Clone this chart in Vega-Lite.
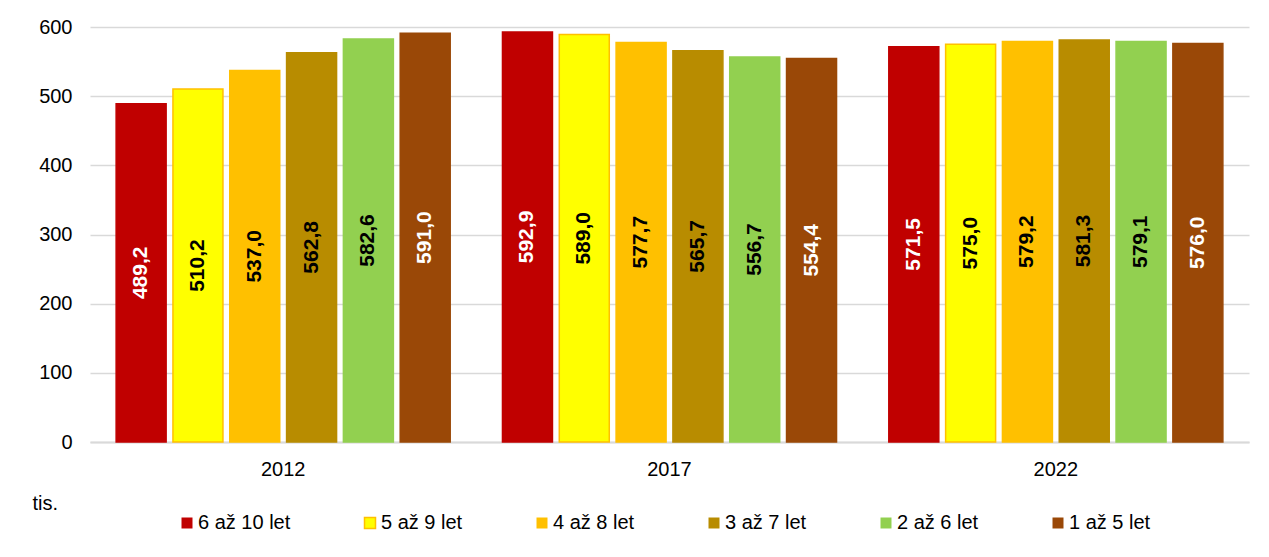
{
  "$schema": "https://vega.github.io/schema/vega-lite/v6.json",
  "width": 1159,
  "height": 415,
  "autosize": {"type": "none"},
  "padding": {"left": 90, "top": 27, "right": 20, "bottom": 115},
  "background": "white",
  "config": {
    "font": "Liberation Sans",
    "locale": {"number": {"decimal": ",", "thousands": " ", "grouping": [3], "currency": ["", " Kč"]}},
    "view": {"stroke": null},
    "axis": {"labelFont": "Liberation Sans", "labelColor": "#000000", "labelFontSize": 20}
  },
  "data": {
    "values": [
      {"year": "2012", "series": "6 až 10 let", "value": 489.2},
      {"year": "2012", "series": "5 až 9 let", "value": 510.2},
      {"year": "2012", "series": "4 až 8 let", "value": 537.0},
      {"year": "2012", "series": "3 až 7 let", "value": 562.8},
      {"year": "2012", "series": "2 až 6 let", "value": 582.6},
      {"year": "2012", "series": "1 až 5 let", "value": 591.0},
      {"year": "2017", "series": "6 až 10 let", "value": 592.9},
      {"year": "2017", "series": "5 až 9 let", "value": 589.0},
      {"year": "2017", "series": "4 až 8 let", "value": 577.7},
      {"year": "2017", "series": "3 až 7 let", "value": 565.7},
      {"year": "2017", "series": "2 až 6 let", "value": 556.7},
      {"year": "2017", "series": "1 až 5 let", "value": 554.4},
      {"year": "2022", "series": "6 až 10 let", "value": 571.5},
      {"year": "2022", "series": "5 až 9 let", "value": 575.0},
      {"year": "2022", "series": "4 až 8 let", "value": 579.2},
      {"year": "2022", "series": "3 až 7 let", "value": 581.3},
      {"year": "2022", "series": "2 až 6 let", "value": 579.1},
      {"year": "2022", "series": "1 až 5 let", "value": 576.0}
    ]
  },
  "encoding": {
    "x": {
      "field": "year", "type": "nominal",
      "scale": {"paddingInner": 0, "paddingOuter": 0},
      "axis": {"title": null, "labelAngle": 0, "ticks": false, "domainColor": "#d9d9d9", "domainWidth": 2, "labelPadding": 17}
    },
    "xOffset": {
      "field": "series", "type": "nominal",
      "sort": ["6 až 10 let", "5 až 9 let", "4 až 8 let", "3 až 7 let", "2 až 6 let", "1 až 5 let"],
      "scale": {"paddingInner": 0.12, "paddingOuter": 0.46}
    }
  },
  "layer": [
    {
      "mark": {"type": "bar", "strokeWidth": 1.5},
      "encoding": {
        "y": {
          "field": "value", "type": "quantitative",
          "scale": {"domain": [0, 600], "nice": false},
          "axis": {
            "title": "tis.", "titleAngle": 0, "titleFontSize": 20, "titleFontWeight": "normal", "titleFont": "Liberation Sans",
            "titleAlign": "left", "titleBaseline": "middle", "titleX": -58, "titleY": 476,
            "values": [0, 100, 200, 300, 400, 500, 600],
            "domain": false, "ticks": false, "labelPadding": 18,
            "gridColor": "#d9d9d9", "gridWidth": 1.5
          }
        },
        "color": {
          "field": "series", "type": "nominal",
          "scale": {
            "domain": ["6 až 10 let", "5 až 9 let", "4 až 8 let", "3 až 7 let", "2 až 6 let", "1 až 5 let"],
            "range": ["#C00000", "#FFFF00", "#FFC000", "#B88C00", "#92D050", "#9A4807"]
          },
          "legend": {
            "title": null, "orient": "none", "direction": "horizontal", "legendX": 87, "legendY": 486,
            "symbolType": "square", "symbolSize": 121, "symbolStrokeWidth": 0,
            "labelFontSize": 20, "labelFont": "Liberation Sans", "labelColor": "#000000", "labelOffset": 1,
            "columnPadding": 69,
            "encode": {
              "symbols": {
                "update": {
                  "stroke": {"signal": "datum.value === '5 až 9 let' ? '#FFC000' : 'transparent'"},
                  "strokeWidth": {"value": 1.5}
                }
              }
            }
          }
        },
        "stroke": {
          "field": "series", "type": "nominal",
          "scale": {
            "domain": ["6 až 10 let", "5 až 9 let", "4 až 8 let", "3 až 7 let", "2 až 6 let", "1 až 5 let"],
            "range": ["#C00000", "#FFC000", "#FFC000", "#B88C00", "#92D050", "#9A4807"]
          },
          "legend": null
        }
      }
    },
    {
      "mark": {"type": "text", "angle": 270, "align": "center", "baseline": "middle", "fontSize": 21, "fontWeight": "bold", "font": "Liberation Sans"},
      "encoding": {
        "y": {
          "field": "value", "type": "quantitative",
          "scale": {"domain": [0, 1200], "nice": false},
          "axis": null
        },
        "text": {"field": "value", "type": "quantitative", "format": ".1f"},
        "color": {
          "field": "series", "type": "nominal",
          "scale": {
            "domain": ["6 až 10 let", "5 až 9 let", "4 až 8 let", "3 až 7 let", "2 až 6 let", "1 až 5 let"],
            "range": ["#FFFFFF", "#000000", "#000000", "#000000", "#000000", "#FFFFFF"]
          },
          "legend": null
        }
      }
    }
  ],
  "resolve": {"scale": {"y": "independent", "color": "independent"}}
}
